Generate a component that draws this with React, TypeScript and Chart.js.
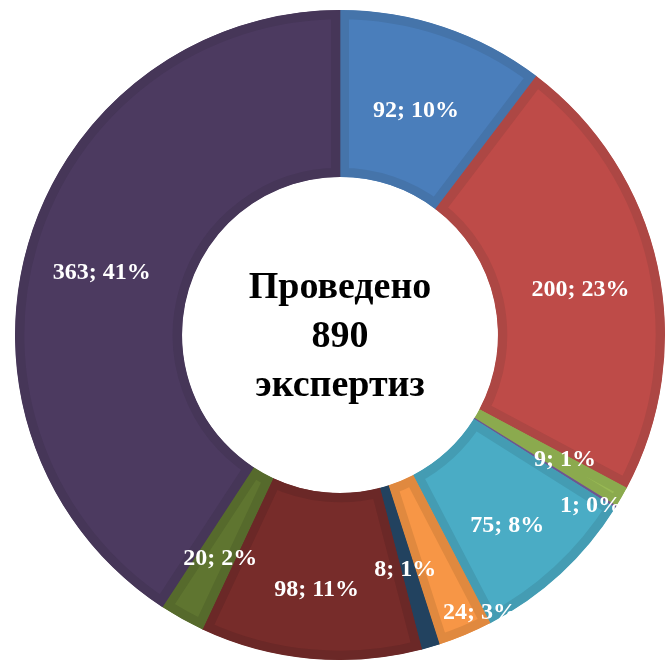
import React, { useEffect, useRef } from "react";
import { Chart, registerables } from "chart.js";

Chart.register(...registerables);

const categories = [
  "Категория 1",
  "Категория 2",
  "Категория 3",
  "Категория 4",
  "Категория 5",
  "Категория 6",
  "Категория 7",
  "Категория 8",
  "Категория 9",
  "Категория 10",
];
const values = [92, 200, 9, 1, 75, 24, 8, 98, 20, 363];
const percents = [10, 23, 1, 0, 8, 3, 1, 11, 2, 41];
const centerLines = ["Проведено", "890", "экспертиз"];

const fillColors = [
  "#4A7EBB",
  "#BE4B48",
  "#98B954",
  "#7D60A0",
  "#4AACC5",
  "#F79646",
  "#264A6E",
  "#772C2A",
  "#5F7530",
  "#4C3A60",
];
const borderColors = [
  "#4574AA",
  "#AD4744",
  "#8BAA4E",
  "#6F5590",
  "#449CB3",
  "#E0893F",
  "#22425F",
  "#6B2827",
  "#566A2C",
  "#463658",
];

// label placement tweaks (radial fraction across ring, angle shift in degrees)
const labelRadFrac = [0.48, 0.52, 0.59, 0.87, 0.57, 0.91, 0.51, 0.58, 0.57, 0.53];
const labelAngleShift = [0, 1.5, -1.2, 2.2, 1.3, -4.2, 0.6, 0, -0.9, -1.8];

const labelPlugin = {
  id: "sliceLabels",
  afterDatasetsDraw(chart: any) {
    const { ctx } = chart;
    const meta = chart.getDatasetMeta(0);
    ctx.save();
    ctx.fillStyle = "#FFFFFF";
    ctx.font = "bold 24px 'Liberation Serif', 'Times New Roman', serif";
    ctx.textAlign = "center";
    ctx.textBaseline = "middle";
    meta.data.forEach((arc: any, i: number) => {
      const p = arc.getProps(["x", "y", "startAngle", "endAngle", "innerRadius", "outerRadius"], true);
      const mid = (p.startAngle + p.endAngle) / 2 + (labelAngleShift[i] * Math.PI) / 180;
      const r = p.innerRadius + (p.outerRadius - p.innerRadius) * labelRadFrac[i];
      const x = p.x + Math.cos(mid) * r;
      const y = p.y + Math.sin(mid) * r;
      ctx.fillText(`${values[i]}; ${percents[i]}%`, x, y + 1);
    });
    // center text
    const a0 = meta.data[0];
    if (a0) {
      ctx.fillStyle = "#000000";
      ctx.font = "bold 38px 'Liberation Serif', 'Times New Roman', serif";
      const lh = 49;
      centerLines.forEach((t, k) => {
        ctx.fillText(t, a0.x, a0.y + (k - 1) * lh + 2);
      });
    }
    ctx.restore();
  },
};

export default function App() {
  const ref = useRef<HTMLCanvasElement | null>(null);
  useEffect(() => {
    if (!ref.current) return;
    const chart = new Chart(ref.current, {
      type: "doughnut",
      data: {
        labels: categories,
        datasets: [
          {
            data: values,
            backgroundColor: fillColors,
            borderColor: borderColors,
            borderWidth: 9,
            borderAlign: "inner",
            hoverBorderWidth: 9,
          } as any,
        ],
      },
      options: {
        animation: false,
        responsive: true,
        maintainAspectRatio: false,
        radius: 325,
        cutout: "48.6%",
        layout: { padding: { left: 15, right: 2, top: 10, bottom: 7 } },
        plugins: {
          legend: { display: false },
          tooltip: { enabled: false },
        },
      } as any,
      plugins: [labelPlugin],
    });
    return () => chart.destroy();
  }, []);
  return (
    <div style={{ position: "absolute", left: 0, top: 0, width: 667, height: 667, background: "#fff" }}>
      <canvas ref={ref} />
    </div>
  );
}
